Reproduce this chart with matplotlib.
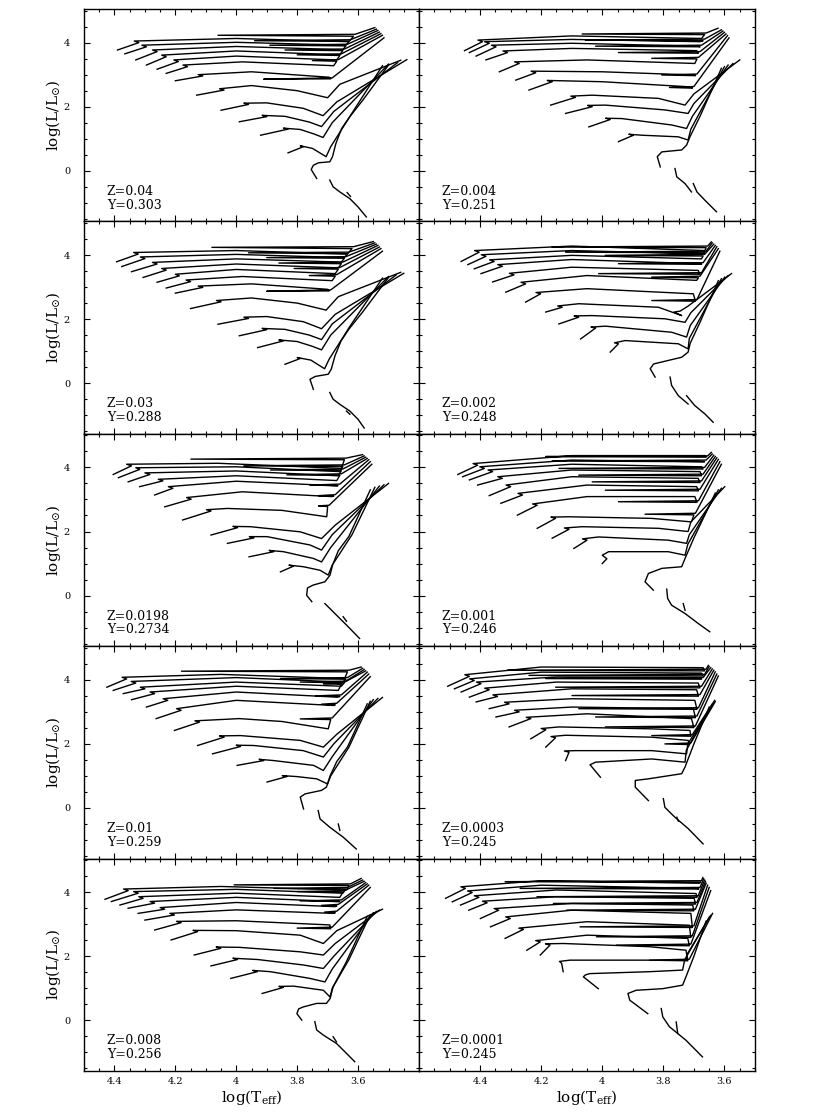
import matplotlib
matplotlib.use("Agg")
import matplotlib.pyplot as plt
from matplotlib.ticker import MultipleLocator, FixedLocator, FuncFormatter

plt.rcParams['font.family'] = ['DejaVu Serif']
plt.rcParams['mathtext.fontset'] = 'dejavuserif'

# ---- evolutionary tracks, (log Teff, log L/Lsun) vertices ----
tracks_z040 = [
    [(4.39,3.77),(4.32,4.00),(4.335,4.05),(4.00,4.13),(3.63,4.03),(3.615,4.20),(4.06,4.23),(3.61,4.26),(3.545,4.47)],
    [(4.366,3.65),(4.295,3.87),(4.31,3.92),(4.00,4.01),(3.64,3.92),(3.63,4.04),(3.94,4.06),(3.625,4.09),(3.54,4.42)],
    [(4.33,3.46),(4.26,3.72),(4.275,3.77),(4.00,3.88),(3.65,3.78),(3.64,3.90),(3.89,3.92),(3.635,3.95),(3.535,4.38)],
    [(4.295,3.30),(4.23,3.56),(4.245,3.61),(4.00,3.74),(3.66,3.62),(3.65,3.75),(3.84,3.77),(3.645,3.80),(3.53,4.33)],
    [(4.26,3.17),(4.19,3.41),(4.205,3.46),(4.00,3.58),(3.67,3.46),(3.66,3.60),(3.80,3.62),(3.655,3.65),(3.525,4.28)],
    [(4.23,3.04),(4.16,3.25),(4.175,3.30),(3.98,3.40),(3.68,3.28),(3.67,3.42),(3.75,3.44),(3.665,3.47),(3.52,4.23)],
    [(4.20,2.81),(4.11,2.96),(4.125,3.00),(3.95,3.09),(3.695,2.92),(3.69,2.87),(3.91,2.86),(3.685,2.90),(3.515,4.15)],
    [(4.13,2.36),(4.04,2.52),(4.055,2.56),(3.95,2.66),(3.80,2.50),(3.70,2.28),(3.66,2.70),(3.46,3.45)],
    [(4.05,1.89),(3.96,2.07),(3.975,2.11),(3.90,2.12),(3.78,1.95),(3.715,1.72),(3.67,2.15),(3.44,3.47)],
    [(3.99,1.53),(3.90,1.69),(3.915,1.73),(3.84,1.70),(3.76,1.52),(3.72,1.38),(3.68,1.85),(3.47,3.38)],
    [(3.92,1.11),(3.83,1.30),(3.845,1.33),(3.79,1.29),(3.745,1.15),(3.715,1.04),(3.685,1.50),(3.50,3.33)],
    [(3.83,0.56),(3.78,0.75),(3.79,0.78),(3.75,0.70),(3.705,0.44),(3.69,0.75),(3.62,1.80),(3.52,3.28)],
    [(3.736,-0.24),(3.754,0.04),(3.747,0.17),(3.73,0.25),(3.693,0.28),(3.684,0.44),(3.673,0.85),(3.654,1.32),(3.627,1.69),(3.584,2.21),(3.50,3.30)],
    [(3.693,-0.29),(3.682,-0.50),(3.66,-0.66),(3.627,-0.87),(3.60,-1.13),(3.573,-1.44)],
    [(3.636,-0.68),(3.625,-0.80)],
]

tracks_z030 = [
    [(4.393,3.79),(4.322,4.03),(4.337,4.08),(4.00,4.14),(3.635,4.03),(3.62,4.20),(4.08,4.24),(3.615,4.26),(3.55,4.42)],
    [(4.376,3.64),(4.30,3.89),(4.315,3.94),(4.00,4.02),(3.645,3.92),(3.635,4.04),(3.96,4.07),(3.63,4.09),(3.545,4.38)],
    [(4.344,3.48),(4.26,3.72),(4.275,3.77),(4.00,3.88),(3.655,3.78),(3.645,3.90),(3.90,3.92),(3.64,3.95),(3.54,4.34)],
    [(4.306,3.30),(4.23,3.53),(4.245,3.58),(4.00,3.72),(3.665,3.60),(3.655,3.73),(3.86,3.75),(3.65,3.78),(3.535,4.30)],
    [(4.26,3.15),(4.187,3.35),(4.20,3.40),(4.00,3.55),(3.675,3.42),(3.665,3.56),(3.81,3.58),(3.66,3.61),(3.53,4.25)],
    [(4.23,2.97),(4.15,3.17),(4.165,3.22),(3.98,3.33),(3.685,3.20),(3.675,3.34),(3.76,3.36),(3.67,3.39),(3.525,4.20)],
    [(4.20,2.81),(4.11,2.99),(4.125,3.03),(3.95,3.10),(3.70,2.93),(3.695,2.88),(3.90,2.87),(3.69,2.91),(3.52,4.12)],
    [(4.15,2.33),(4.05,2.54),(4.065,2.58),(3.95,2.66),(3.80,2.50),(3.705,2.28),(3.665,2.70),(3.46,3.46)],
    [(4.06,1.84),(3.96,2.02),(3.975,2.06),(3.90,2.08),(3.78,1.92),(3.72,1.70),(3.675,2.15),(3.45,3.43)],
    [(3.99,1.48),(3.90,1.67),(3.915,1.71),(3.84,1.68),(3.76,1.50),(3.72,1.36),(3.685,1.85),(3.475,3.38)],
    [(3.93,1.11),(3.845,1.32),(3.86,1.35),(3.80,1.30),(3.75,1.15),(3.72,1.04),(3.69,1.50),(3.50,3.33)],
    [(3.84,0.59),(3.79,0.77),(3.80,0.80),(3.755,0.72),(3.71,0.45),(3.695,0.75),(3.625,1.80),(3.52,3.28)],
    [(3.747,-0.19),(3.758,0.12),(3.741,0.21),(3.698,0.28),(3.688,0.44),(3.676,0.85),(3.656,1.32),(3.63,1.69),(3.586,2.21),(3.50,3.30)],
    [(3.693,-0.29),(3.682,-0.50),(3.66,-0.66),(3.627,-0.87),(3.60,-1.13),(3.58,-1.40)],
    [(3.638,-0.87),(3.627,-0.97)],
]

tracks_z0198 = [
    [(4.404,3.78),(4.344,4.05),(4.36,4.10),(4.06,4.13),(3.655,3.97),(3.645,4.24),(4.149,4.26),(3.64,4.29),(3.585,4.40)],
    [(4.387,3.68),(4.317,3.94),(4.33,3.99),(4.00,4.02),(3.66,3.87),(3.65,4.03),(3.975,4.05),(3.645,4.08),(3.58,4.36)],
    [(4.355,3.55),(4.284,3.78),(4.30,3.83),(4.00,3.89),(3.665,3.74),(3.655,3.90),(3.888,3.92),(3.65,3.95),(3.575,4.32)],
    [(4.317,3.40),(4.241,3.58),(4.256,3.63),(4.00,3.74),(3.67,3.59),(3.66,3.75),(3.834,3.77),(3.655,3.80),(3.57,4.28)],
    [(4.268,3.14),(4.208,3.35),(4.223,3.40),(4.00,3.57),(3.676,3.43),(3.666,3.43),(3.758,3.45),(3.66,3.48),(3.565,4.24)],
    [(4.235,2.77),(4.148,3.01),(4.163,3.06),(3.98,3.24),(3.687,3.09),(3.68,3.10),(3.73,3.12),(3.675,3.15),(3.56,4.18)],
    [(4.176,2.36),(4.083,2.64),(4.098,2.68),(4.029,2.72),(3.85,2.66),(3.703,2.46),(3.70,2.78),(3.73,2.80),(3.695,2.82),(3.555,4.10)],
    [(4.083,1.89),(3.996,2.12),(4.011,2.16),(3.953,2.15),(3.79,1.99),(3.72,1.78),(3.675,2.20),(3.50,3.50)],
    [(4.029,1.63),(3.942,1.80),(3.957,1.84),(3.899,1.84),(3.758,1.58),(3.72,1.42),(3.685,1.90),(3.515,3.46)],
    [(3.958,1.21),(3.877,1.37),(3.892,1.41),(3.845,1.37),(3.747,1.16),(3.72,1.05),(3.69,1.50),(3.53,3.42)],
    [(3.855,0.74),(3.812,0.92),(3.827,0.95),(3.779,0.90),(3.725,0.79),(3.698,0.64),(3.685,0.95),(3.62,1.90),(3.545,3.38)],
    [(3.752,-0.19),(3.769,0.01),(3.766,0.24),(3.747,0.33),(3.709,0.43),(3.692,0.64),(3.684,0.95),(3.665,1.40),(3.63,1.85),(3.56,3.30)],
    [(3.709,-0.25),(3.693,-0.40),(3.671,-0.61),(3.638,-0.92),(3.595,-1.34)],
    [(3.649,-0.66),(3.638,-0.80)],
]

tracks_z010 = [
    [(4.425,3.77),(4.36,4.03),(4.375,4.08),(4.05,4.17),(3.644,4.04),(3.635,4.25),(4.18,4.27),(3.63,4.30),(3.59,4.40)],
    [(4.404,3.67),(4.33,3.90),(4.345,3.95),(4.00,4.07),(3.65,3.93),(3.64,4.02),(3.855,4.04),(3.635,4.07),(3.585,4.36)],
    [(4.371,3.57),(4.30,3.72),(4.315,3.77),(4.00,3.93),(3.655,3.80),(3.645,3.91),(3.79,3.93),(3.64,3.96),(3.58,4.32)],
    [(4.344,3.38),(4.268,3.57),(4.283,3.62),(4.00,3.80),(3.665,3.67),(3.655,3.86),(3.714,3.88),(3.65,3.90),(3.575,4.28)],
    [(4.295,3.15),(4.225,3.36),(4.24,3.41),(4.00,3.62),(3.67,3.46),(3.66,3.48),(3.74,3.50),(3.655,3.53),(3.57,4.24)],
    [(4.263,2.79),(4.181,3.05),(4.196,3.10),(4.00,3.36),(3.682,3.20),(3.675,3.22),(3.72,3.24),(3.67,3.27),(3.565,4.18)],
    [(4.203,2.42),(4.121,2.68),(4.136,2.72),(3.99,2.79),(3.85,2.70),(3.698,2.47),(3.69,2.76),(3.79,2.78),(3.685,2.81),(3.56,4.10)],
    [(4.127,1.95),(4.04,2.21),(4.055,2.25),(3.986,2.26),(3.79,2.11),(3.714,1.90),(3.67,2.30),(3.52,3.45)],
    [(4.078,1.69),(3.986,1.92),(4.00,1.96),(3.942,1.95),(3.78,1.79),(3.714,1.59),(3.68,2.00),(3.535,3.42)],
    [(3.997,1.33),(3.91,1.48),(3.925,1.52),(3.877,1.48),(3.746,1.33),(3.714,1.17),(3.685,1.60),(3.55,3.38)],
    [(3.899,0.81),(3.834,0.98),(3.849,1.01),(3.801,0.98),(3.736,0.91),(3.70,0.75),(3.69,1.00),(3.63,1.90),(3.56,3.33)],
    [(3.779,-0.03),(3.79,0.34),(3.774,0.44),(3.72,0.55),(3.704,0.65),(3.692,1.00),(3.67,1.45),(3.635,1.90),(3.57,3.25)],
    [(3.731,-0.08),(3.725,-0.34),(3.693,-0.60),(3.649,-0.91),(3.606,-1.28)],
    [(3.665,-0.50),(3.66,-0.70)],
]

tracks_z008 = [
    [(4.431,3.78),(4.355,4.05),(4.37,4.10),(4.05,4.18),(3.638,4.07),(3.63,4.21),(4.007,4.23),(3.625,4.26),(3.59,4.43)],
    [(4.41,3.71),(4.322,3.97),(4.337,4.02),(4.00,4.09),(3.65,3.97),(3.64,4.10),(3.877,4.12),(3.635,4.15),(3.585,4.38)],
    [(4.382,3.60),(4.306,3.81),(4.32,3.86),(4.00,3.97),(3.66,3.84),(3.65,4.00),(3.80,4.02),(3.645,4.05),(3.58,4.34)],
    [(4.355,3.50),(4.268,3.66),(4.283,3.71),(4.00,3.84),(3.67,3.71),(3.66,3.71),(3.79,3.73),(3.655,3.76),(3.575,4.30)],
    [(4.322,3.34),(4.235,3.47),(4.25,3.52),(4.00,3.68),(3.677,3.55),(3.67,3.57),(3.72,3.59),(3.665,3.62),(3.57,4.26)],
    [(4.30,3.13),(4.203,3.29),(4.218,3.34),(4.00,3.45),(3.682,3.34),(3.675,3.36),(3.71,3.38),(3.67,3.41),(3.565,4.22)],
    [(4.268,2.82),(4.181,3.05),(4.196,3.09),(4.00,3.11),(3.693,2.98),(3.69,2.86),(3.80,2.88),(3.685,2.91),(3.56,4.15)],
    [(4.214,2.51),(4.127,2.77),(4.142,2.81),(4.00,2.80),(3.79,2.66),(3.714,2.40),(3.67,2.80),(3.52,3.47)],
    [(4.138,2.04),(4.051,2.25),(4.066,2.29),(3.99,2.28),(3.79,2.14),(3.714,2.04),(3.675,2.40),(3.53,3.44)],
    [(4.083,1.70),(3.996,1.90),(4.011,1.94),(3.93,1.90),(3.78,1.73),(3.714,1.62),(3.68,2.00),(3.54,3.40)],
    [(4.018,1.31),(3.931,1.52),(3.946,1.56),(3.888,1.52),(3.758,1.31),(3.709,1.20),(3.685,1.60),(3.55,3.36)],
    [(3.915,0.84),(3.845,1.03),(3.86,1.06),(3.812,1.07),(3.714,0.94),(3.692,0.73),(3.685,1.00),(3.63,1.90),(3.56,3.30)],
    [(3.785,0.01),(3.801,0.21),(3.795,0.36),(3.78,0.42),(3.736,0.53),(3.704,0.53),(3.692,0.68),(3.682,1.05),(3.64,1.80),(3.57,3.25)],
    [(3.742,-0.04),(3.736,-0.30),(3.714,-0.46),(3.671,-0.72),(3.638,-1.03),(3.611,-1.29)],
    [(3.682,-0.51),(3.671,-0.67)],
]

tracks_z004 = [
    [(4.451,3.75),(4.392,4.03),(4.407,4.08),(4.10,4.21),(3.675,4.13),(3.665,4.25),(4.066,4.27),(3.66,4.30),(3.621,4.45)],
    [(4.435,3.69),(4.37,3.98),(4.385,4.03),(4.10,4.10),(3.68,4.03),(3.67,4.06),(4.055,4.08),(3.665,4.11),(3.61,4.40)],
    [(4.413,3.58),(4.348,3.87),(4.363,3.92),(4.10,3.98),(3.686,3.89),(3.68,3.87),(4.022,3.89),(3.675,3.92),(3.605,4.36)],
    [(4.381,3.46),(4.31,3.69),(4.325,3.74),(4.10,3.82),(3.691,3.75),(3.685,3.67),(3.947,3.69),(3.68,3.72),(3.60,4.32)],
    [(4.337,3.09),(4.272,3.35),(4.287,3.40),(4.05,3.46),(3.697,3.35),(3.69,3.49),(3.838,3.51),(3.685,3.54),(3.595,4.27)],
    [(4.283,2.83),(4.218,3.06),(4.233,3.11),(4.00,3.09),(3.702,2.99),(3.695,2.97),(3.805,2.99),(3.69,3.02),(3.59,4.22)],
    [(4.24,2.52),(4.164,2.78),(4.18,2.82),(4.00,2.78),(3.713,2.62),(3.705,2.58),(3.78,2.60),(3.70,2.63),(3.585,4.15)],
    [(4.169,2.05),(4.088,2.29),(4.103,2.33),(4.033,2.36),(3.816,2.26),(3.729,2.05),(3.70,2.40),(3.55,3.46)],
    [(4.12,1.79),(4.033,2.00),(4.048,2.04),(3.99,2.05),(3.795,1.90),(3.719,1.79),(3.70,2.10),(3.572,3.35)],
    [(4.044,1.37),(3.974,1.60),(3.989,1.64),(3.936,1.63),(3.773,1.43),(3.724,1.32),(3.705,1.70),(3.588,3.30)],
    [(3.947,0.91),(3.898,1.11),(3.913,1.14),(3.87,1.11),(3.751,1.06),(3.719,0.96),(3.71,1.30),(3.60,3.25)],
    [(3.81,0.12),(3.82,0.44),(3.805,0.59),(3.74,0.65),(3.724,0.80),(3.713,1.06),(3.68,1.70),(3.61,3.20)],
    [(3.762,0.07),(3.756,-0.19),(3.729,-0.40),(3.708,-0.66)],
    [(3.702,-0.40),(3.69,-0.66),(3.664,-0.92),(3.626,-1.28)],
]

tracks_z002 = [
    [(4.462,3.80),(4.403,4.09),(4.418,4.14),(4.10,4.28),(3.664,4.14),(3.66,4.23),(4.164,4.25),(3.655,4.28),(3.643,4.41)],
    [(4.44,3.70),(4.381,3.96),(4.396,4.01),(4.10,4.14),(3.67,4.04),(3.665,4.07),(4.12,4.09),(3.66,4.12),(3.64,4.38)],
    [(4.419,3.57),(4.354,3.80),(4.369,3.85),(4.10,3.99),(3.675,3.88),(3.67,3.97),(3.99,3.99),(3.665,4.02),(3.635,4.34)],
    [(4.397,3.42),(4.327,3.65),(4.342,3.70),(4.10,3.86),(3.68,3.73),(3.675,3.71),(3.947,3.73),(3.67,3.76),(3.63,4.30)],
    [(4.359,3.16),(4.289,3.38),(4.304,3.43),(4.10,3.62),(3.686,3.52),(3.68,3.40),(4.012,3.42),(3.675,3.45),(3.625,4.26)],
    [(4.316,2.84),(4.251,3.10),(4.266,3.15),(4.05,3.36),(3.691,3.21),(3.685,3.29),(3.838,3.31),(3.68,3.34),(3.62,4.20)],
    [(4.251,2.53),(4.202,2.79),(4.217,2.83),(4.05,2.95),(3.702,2.79),(3.695,2.56),(3.838,2.58),(3.69,2.61),(3.615,4.12)],
    [(4.185,2.22),(4.131,2.37),(4.146,2.41),(4.077,2.48),(3.816,2.37),(3.74,2.11),(3.765,2.22),(3.745,2.25),(3.72,2.40),(3.577,3.42)],
    [(4.142,1.85),(4.077,2.06),(4.092,2.10),(4.033,2.11),(3.795,2.01),(3.729,1.90),(3.71,2.20),(3.588,3.36)],
    [(4.071,1.38),(4.022,1.72),(4.037,1.75),(3.99,1.78),(3.773,1.59),(3.724,1.44),(3.712,1.80),(3.599,3.31)],
    [(3.974,0.97),(3.947,1.23),(3.96,1.26),(3.925,1.33),(3.751,1.23),(3.719,1.07),(3.715,1.40),(3.61,3.26)],
    [(3.827,0.19),(3.843,0.45),(3.832,0.60),(3.74,0.81),(3.719,0.97),(3.712,1.25),(3.68,1.90),(3.62,3.20)],
    [(3.778,0.19),(3.773,-0.07),(3.751,-0.39),(3.719,-0.65)],
    [(3.724,-0.39),(3.697,-0.70),(3.664,-0.96),(3.637,-1.22)],
]

tracks_z001 = [
    [(4.473,3.78),(4.408,4.07),(4.423,4.12),(4.10,4.37),(3.664,4.37),(3.66,4.32),(4.185,4.34),(3.655,4.36),(3.643,4.47)],
    [(4.457,3.71),(4.386,3.97),(4.401,4.02),(4.10,4.23),(3.67,4.18),(3.665,4.18),(4.164,4.20),(3.66,4.23),(3.64,4.42)],
    [(4.435,3.61),(4.359,3.87),(4.374,3.92),(4.10,4.10),(3.675,4.02),(3.67,3.95),(4.142,3.97),(3.665,4.00),(3.635,4.38)],
    [(4.408,3.45),(4.327,3.66),(4.342,3.71),(4.10,3.92),(3.68,3.87),(3.675,3.74),(4.077,3.76),(3.67,3.79),(3.63,4.34)],
    [(4.37,3.12),(4.30,3.40),(4.315,3.45),(4.10,3.71),(3.686,3.66),(3.68,3.53),(4.033,3.55),(3.675,3.58),(3.625,4.30)],
    [(4.332,2.88),(4.261,3.14),(4.276,3.19),(4.05,3.45),(3.691,3.40),(3.685,3.27),(3.99,3.29),(3.68,3.32),(3.62,4.25)],
    [(4.278,2.51),(4.213,2.82),(4.228,2.86),(4.05,3.09),(3.697,3.09),(3.69,2.91),(3.947,2.93),(3.685,2.96),(3.615,4.18)],
    [(4.213,2.10),(4.153,2.41),(4.168,2.45),(4.109,2.46),(3.838,2.41),(3.708,2.30),(3.70,2.52),(3.86,2.54),(3.695,2.57),(3.61,4.10)],
    [(4.164,1.79),(4.109,2.07),(4.124,2.11),(4.066,2.15),(3.816,2.10),(3.719,2.00),(3.71,2.30),(3.599,3.40)],
    [(4.093,1.47),(4.05,1.73),(4.065,1.77),(4.012,1.83),(3.784,1.73),(3.724,1.63),(3.715,1.90),(3.61,3.35)],
    [(4.00,1.00),(3.985,1.15),(4.00,1.26),(3.979,1.37),(3.784,1.37),(3.729,1.26),(3.72,1.60),(3.62,3.30)],
    [(3.833,0.17),(3.86,0.43),(3.849,0.69),(3.805,0.85),(3.74,0.90),(3.729,1.16),(3.70,1.80),(3.63,3.20)],
    [(3.789,0.20),(3.786,-0.09),(3.773,-0.30),(3.729,-0.56),(3.686,-0.87),(3.648,-1.13)],
    [(3.735,-0.25),(3.729,-0.46)],
]

tracks_z0003 = [
    [(4.506,3.80),(4.435,4.11),(4.45,4.16),(4.20,4.40),(3.67,4.38),(3.665,4.28),(4.31,4.30),(3.66,4.33),(3.653,4.45)],
    [(4.484,3.72),(4.419,3.98),(4.434,4.03),(4.20,4.24),(3.675,4.21),(3.67,4.12),(4.24,4.14),(3.665,4.17),(3.65,4.42)],
    [(4.462,3.62),(4.397,3.88),(4.412,3.93),(4.15,4.09),(3.68,4.07),(3.675,4.02),(4.185,4.04),(3.67,4.07),(3.645,4.38)],
    [(4.435,3.46),(4.37,3.69),(4.385,3.74),(4.15,3.93),(3.686,3.90),(3.68,3.75),(4.153,3.77),(3.675,3.80),(3.64,4.34)],
    [(4.413,3.31),(4.343,3.48),(4.358,3.53),(4.10,3.72),(3.691,3.69),(3.685,3.49),(4.099,3.51),(3.68,3.54),(3.635,4.30)],
    [(4.37,3.10),(4.305,3.25),(4.32,3.30),(4.10,3.41),(3.697,3.36),(3.69,3.08),(4.077,3.10),(3.685,3.13),(3.63,4.25)],
    [(4.348,2.84),(4.272,3.00),(4.287,3.05),(4.10,3.15),(3.702,3.10),(3.695,2.82),(4.022,2.84),(3.69,2.87),(3.625,4.18)],
    [(4.305,2.53),(4.234,2.79),(4.249,2.83),(4.05,2.94),(3.708,2.79),(3.70,2.51),(3.99,2.53),(3.695,2.56),(3.62,4.12)],
    [(4.234,2.16),(4.185,2.44),(4.20,2.48),(4.142,2.53),(3.838,2.47),(3.713,2.42),(3.71,2.24),(3.838,2.26),(3.705,2.29),(3.632,3.36)],
    [(4.185,1.90),(4.153,2.19),(4.168,2.23),(4.12,2.27),(3.838,2.21),(3.719,2.11),(3.715,1.98),(3.795,2.00),(3.71,2.03),(3.63,3.32)],
    [(4.12,1.48),(4.109,1.74),(4.124,1.78),(4.088,1.79),(3.838,1.79),(3.724,1.69),(3.72,2.00),(3.635,3.28)],
    [(4.006,0.96),(4.033,1.27),(4.04,1.35),(4.022,1.43),(3.838,1.53),(3.729,1.43),(3.725,1.80),(3.64,3.24)],
    [(3.849,0.23),(3.892,0.65),(3.892,0.86),(3.849,0.91),(3.74,1.07),(3.729,1.28),(3.70,2.00),(3.65,3.15)],
    [(3.80,0.29),(3.795,0.02),(3.762,-0.29),(3.718,-0.65),(3.67,-1.12)],
    [(3.756,-0.29),(3.751,-0.41)],
]

tracks_z0001 = [
    [(4.513,3.81),(4.448,4.12),(4.463,4.17),(4.20,4.36),(3.682,4.28),(3.678,4.31),(4.318,4.33),(3.675,4.36),(3.671,4.46)],
    [(4.491,3.70),(4.426,3.99),(4.441,4.04),(4.20,4.22),(3.688,4.12),(3.684,4.10),(4.269,4.12),(3.68,4.15),(3.668,4.42)],
    [(4.464,3.60),(4.404,3.84),(4.419,3.89),(4.15,4.07),(3.693,3.96),(3.69,3.84),(4.214,3.86),(3.686,3.89),(3.665,4.38)],
    [(4.437,3.44),(4.377,3.67),(4.392,3.72),(4.15,3.86),(3.699,3.81),(3.695,3.63),(4.16,3.65),(3.69,3.68),(3.662,4.34)],
    [(4.399,3.18),(4.339,3.44),(4.354,3.49),(4.10,3.65),(3.704,3.60),(3.70,3.42),(4.117,3.44),(3.695,3.47),(3.66,4.28)],
    [(4.366,2.92),(4.301,3.18),(4.316,3.23),(4.10,3.44),(3.71,3.34),(3.705,2.90),(4.073,2.92),(3.70,2.95),(3.655,4.22)],
    [(4.318,2.56),(4.258,2.84),(4.273,2.88),(4.05,3.08),(3.715,2.97),(3.71,2.59),(4.019,2.61),(3.705,2.64),(3.65,4.15)],
    [(4.247,2.19),(4.203,2.45),(4.218,2.49),(4.05,2.66),(3.72,2.56),(3.715,2.33),(3.954,2.35),(3.71,2.38),(3.645,4.05)],
    [(4.203,2.04),(4.171,2.35),(4.186,2.39),(4.128,2.40),(3.845,2.30),(3.726,2.19),(3.72,1.86),(3.845,1.88),(3.715,1.91),(3.639,3.34)],
    [(4.128,1.52),(4.133,1.78),(4.14,1.84),(4.106,1.88),(3.845,1.88),(3.726,1.88),(3.72,2.10),(3.645,3.28)],
    [(4.013,0.99),(4.062,1.36),(4.055,1.42),(4.041,1.46),(3.845,1.52),(3.737,1.57),(3.73,1.90),(3.65,3.22)],
    [(3.851,0.21),(3.91,0.63),(3.916,0.84),(3.889,0.94),(3.802,0.99),(3.737,1.10),(3.726,1.36),(3.70,2.00),(3.66,3.10)],
    [(3.807,0.37),(3.802,0.11),(3.78,-0.20),(3.726,-0.62),(3.672,-1.14)],
    [(3.758,-0.05),(3.753,-0.41)],
]

z_labels = ["Z=0.04", "Z=0.004", "Z=0.03", "Z=0.002", "Z=0.0198",
            "Z=0.001", "Z=0.01", "Z=0.0003", "Z=0.008", "Z=0.0001"]
y_labels = ["Y=0.303", "Y=0.251", "Y=0.288", "Y=0.248", "Y=0.2734",
            "Y=0.246", "Y=0.259", "Y=0.245", "Y=0.256", "Y=0.245"]
panel_tracks = [tracks_z040, tracks_z004, tracks_z030, tracks_z002, tracks_z0198,
                tracks_z001, tracks_z010, tracks_z0003, tracks_z008, tracks_z0001]

xlims = [(4.5, 3.4), (4.6, 3.5)]
ylim = (-1.58, 5.05)
xticks_major = [4.4, 4.2, 4.0, 3.8, 3.6]

fig = plt.figure(figsize=(8.3, 11.2), dpi=100)
W, H = 830.0, 1120.0
col_left = [84, 419]
col_width = [335, 336]
row_top = 9
row_h = 212.4

fmt = FuncFormatter(lambda v, p: "%g" % v)

for k in range(10):
    row, col = k // 2, k % 2
    top = row_top + row * row_h
    ax = fig.add_axes([col_left[col] / W, 1 - (top + row_h) / H,
                       col_width[col] / W, row_h / H])
    for trk in panel_tracks[k]:
        ax.plot([p[0] for p in trk], [p[1] for p in trk], color='k', lw=1.0)
    ax.set_xlim(*xlims[col])
    ax.set_ylim(*ylim)
    ax.xaxis.set_major_locator(FixedLocator(xticks_major))
    ax.xaxis.set_minor_locator(MultipleLocator(0.05))
    ax.yaxis.set_major_locator(MultipleLocator(2))
    ax.yaxis.set_minor_locator(MultipleLocator(0.5))
    ax.tick_params(which='both', direction='in', top=True, right=True, width=0.8,
                   labelsize=7)
    ax.tick_params(axis='y', which='major', pad=10)
    ax.tick_params(axis='x', which='major', pad=4)
    ax.tick_params(which='major', length=4.5)
    ax.tick_params(which='minor', length=2.5)
    for s in ax.spines.values():
        s.set_linewidth(1.0)
    ax.xaxis.set_major_formatter(fmt)
    ax.yaxis.set_major_formatter(fmt)
    if col == 1:
        ax.tick_params(labelleft=False)
    else:
        ax.set_ylabel(r"log(L/L$_{\odot}$)", fontsize=11, labelpad=0.5)
    if row < 4:
        ax.tick_params(labelbottom=False)
    else:
        ax.set_xlabel(r"log(T$_{\rm eff}$)", fontsize=11, labelpad=2)
    ax.text(0.068, 0.142, z_labels[k], transform=ax.transAxes, fontsize=9,
            ha='left', va='center')
    ax.text(0.068, 0.077, y_labels[k], transform=ax.transAxes, fontsize=9,
            ha='left', va='center')

fig.savefig("out.png", dpi=100)
